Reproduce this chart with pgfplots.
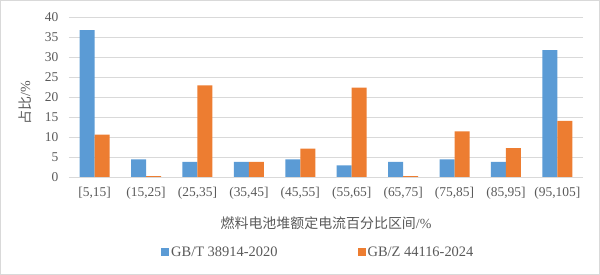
\documentclass[border=0pt]{standalone}
\usepackage{pgfplots}
\pgfplotsset{compat=1.18}
\usepackage{fontspec}
\setmainfont{Liberation Serif}
\newfontfamily\cjk{Noto Sans CJK SC}
\definecolor{bblue}{HTML}{5B9BD5}
\definecolor{borange}{HTML}{ED7D31}
\definecolor{txt}{HTML}{595959}
\definecolor{gridc}{HTML}{D9D9D9}
\begin{document}
\begin{tikzpicture}[x=1bp,y=1bp]
\draw[gridc, line width=0.8bp] (0.5,0.5) rectangle (599.5,274.5);
\begin{axis}[
  at={(69bp,98bp)}, anchor=south west,
  scale only axis, width=514bp, height=160bp,
  ymin=0, ymax=40, ytick={0,5,...,40},
  xmin=-0.5, xmax=9.5, xtick={0,...,9},
  xticklabels={{[5,15]},{(15,25]},{(25,35]},{(35,45]},{(45,55]},{(55,65]},{(65,75]},{(75,85]},{(85,95]},{(95,105]}},
  ybar=0pt, bar width=15bp,
  axis line style={draw=none},
  major tick length=0pt,
  ymajorgrids, grid style={gridc, line width=0.8bp},
  /pgf/number format/assume math mode=true,
  ticklabel style={font=\fontsize{13.5}{15}\selectfont, text=txt},
  yticklabel style={xshift=-7bp},
  xticklabel style={yshift=-7bp},
  xlabel={\cjk 燃料电池堆额定电流百分比区间\normalfont/\%},
  xlabel style={at={(axis description cs:0.5,-0.2875)}, anchor=center, font=\fontsize{14}{16}\selectfont, text=txt},
  legend columns=2,
  legend style={at={(axis description cs:0.485,-0.469)}, anchor=center, draw=none, fill=none,
    font=\fontsize{14.5}{16}\selectfont, text=txt,
    /tikz/every even column/.append style={column sep=78bp},
    /tikz/every odd column/.append style={column sep=0bp}},
  legend image code/.code={\fill[#1] (0bp,-4bp) rectangle (8bp,4bp);},
]
\addplot[fill=bblue, draw=none] coordinates {(0,36.7) (1,4.4) (2,3.75) (3,3.75) (4,4.4) (5,2.9) (6,3.75) (7,4.4) (8,3.75) (9,31.7)};
\addplot[fill=borange, draw=none] coordinates {(0,10.6) (1,0.2) (2,22.9) (3,3.75) (4,7.1) (5,22.3) (6,0.2) (7,11.4) (8,7.2) (9,14.0)};
\legend{GB/T 38914-2020, GB/Z 44116-2024}
\end{axis}
\node[rotate=90, anchor=center, font=\fontsize{14}{16}\selectfont, text=txt] at (25bp,172bp) {\cjk 占比\normalfont/\%};
\end{tikzpicture}
\end{document}
